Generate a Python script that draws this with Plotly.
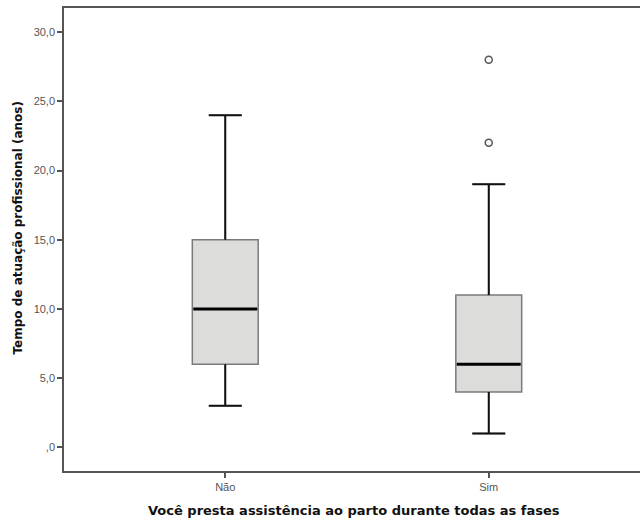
import plotly.graph_objects as go

categories = ["Não", "Sim"]
q1 = [6, 4]
median = [10, 6]
q3 = [15, 11]
lower_whisker = [3, 1]
upper_whisker = [24, 19]
outlier_category = ["Sim", "Sim"]
outlier_values = [22, 28]
y_tick_values = [0, 5, 10, 15, 20, 25, 30]
y_tick_labels = [",0", "5,0", "10,0", "15,0", "20,0", "25,0", "30,0"]
x_title = "Você presta assistência ao parto durante todas as fases"
y_title = "Tempo de atuação profissional (anos)"

xpos = list(range(len(categories)))
box_w = 0.25
cap_w = box_w * 0.5

fig = go.Figure()
fig.add_trace(go.Box(
    x=xpos, q1=q1, median=median, q3=q3,
    lowerfence=lower_whisker, upperfence=upper_whisker,
    width=box_w, whiskerwidth=0.5,
    fillcolor="#dcdddb", line=dict(color="#7a7a7a", width=1.5),
    boxpoints=False, showlegend=False, hoverinfo="skip",
))

wx, wy = [], []
for i, p in enumerate(xpos):
    wx += [p, p, None, p - cap_w / 2, p + cap_w / 2, None,
           p, p, None, p - cap_w / 2, p + cap_w / 2, None]
    wy += [q3[i], upper_whisker[i], None, upper_whisker[i], upper_whisker[i], None,
           q1[i], lower_whisker[i], None, lower_whisker[i], lower_whisker[i], None]
fig.add_trace(go.Scatter(x=wx, y=wy, mode="lines",
                         line=dict(color="#111111", width=2),
                         showlegend=False, hoverinfo="skip"))

mx, my = [], []
for i, p in enumerate(xpos):
    mx += [p - box_w / 2 + 0.004, p + box_w / 2 - 0.004, None]
    my += [median[i], median[i], None]
fig.add_trace(go.Scatter(x=mx, y=my, mode="lines",
                         line=dict(color="#000000", width=3),
                         showlegend=False, hoverinfo="skip"))

ox = [xpos[categories.index(c)] for c in outlier_category]
fig.add_trace(go.Scatter(x=ox, y=outlier_values, mode="markers",
                         marker=dict(symbol="circle-open", size=7,
                                     color="#555555", line=dict(width=1.5)),
                         showlegend=False, hoverinfo="skip"))

fig.update_layout(
    width=640, height=519,
    margin=dict(l=64, r=0, t=8, b=48),
    paper_bgcolor="white", plot_bgcolor="white",
    font=dict(family="Liberation Sans, Arial, sans-serif", color="#333333"),
    xaxis=dict(
        range=[-0.612, 1.574], automargin=False,
        tickvals=xpos, ticktext=categories,
        showgrid=False, zeroline=False,
        showline=True, mirror=True, linecolor="#555555", linewidth=1.5,
        ticks="outside", ticklen=5, tickcolor="#555555", tickwidth=1.5,
        tickfont=dict(size=11, color="#555555"),
    ),
    yaxis=dict(
        range=[-1.71, 31.74], automargin=False,
        tickvals=y_tick_values, ticktext=y_tick_labels,
        showgrid=False, zeroline=False,
        showline=True, linecolor="#555555", linewidth=1.5,
        ticks="outside", ticklen=5, tickcolor="#555555", tickwidth=1.5,
        tickfont=dict(size=11, color="#555555"),
    ),
    annotations=[
        dict(text="<b>" + y_title + "</b>", textangle=-90,
             xref="paper", yref="paper", x=(17.5 - 64) / 576, y=(471 - 228) / 463,
             xanchor="center", yanchor="middle", showarrow=False,
             font=dict(family="DejaVu Sans", size=12, color="#111111")),
        dict(text="<b>" + x_title + "</b>",
             xref="paper", yref="paper", x=(354 - 64) / 576, y=-(510 - 471) / 463,
             xanchor="center", yanchor="middle", showarrow=False,
             font=dict(family="DejaVu Sans", size=13, color="#111111")),
    ],
)

fig.write_html("out.html", config={"displayModeBar": False},
               post_script="document.body.style.margin='0px';document.body.style.padding='0px';")
